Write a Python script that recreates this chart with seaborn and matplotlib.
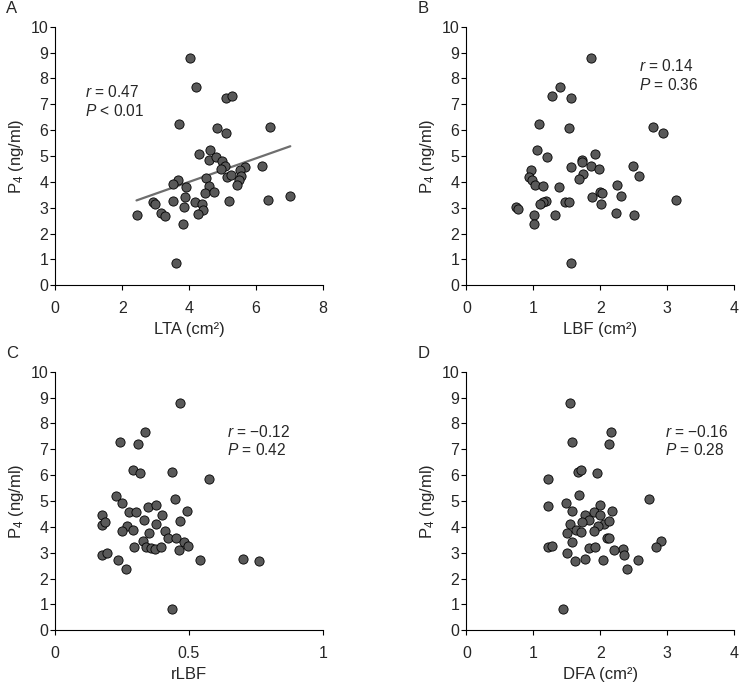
import numpy as np
import pandas as pd
import matplotlib
matplotlib.use('Agg')
import matplotlib.pyplot as plt
import seaborn as sns

## Values
p4_a = [8.80, 7.68, 7.23, 7.31, 6.22, 6.08, 5.88, 6.13, 5.23, 5.09, 4.86, 4.95, 4.79, 4.63, 4.51, 4.61,
        4.59, 4.46, 4.20, 4.28, 4.24, 4.06, 4.14, 4.07, 3.90, 3.80, 3.85, 3.87, 3.58, 3.60, 3.45, 3.43,
        3.25, 3.22, 3.25, 3.30, 3.22, 3.16, 3.13, 3.02, 2.93, 2.81, 2.69, 2.72, 2.74, 2.38, 0.86]
lta = [4.02, 4.20, 5.12, 5.30, 3.69, 4.84, 5.12, 6.43, 4.63, 4.30, 4.59, 4.81, 4.99, 5.07, 4.95, 6.19,
       5.67, 5.53, 5.14, 5.27, 5.55, 5.49, 4.51, 3.68, 3.52, 3.92, 4.59, 5.45, 4.49, 4.75, 7.03, 3.89,
       3.51, 4.19, 5.19, 6.35, 2.91, 2.97, 4.39, 3.86, 4.42, 3.17, 3.29, 2.43, 4.26, 3.81, 3.60]

p4_b = [8.80, 7.68, 7.31, 7.23, 6.22, 6.10, 6.13, 5.88, 5.23, 4.95, 5.09, 4.86, 4.78, 4.46, 4.59, 4.61,
        4.51, 4.63, 4.24, 4.29, 4.12, 4.20, 4.06, 3.89, 3.85, 3.80, 3.87, 3.60, 3.58, 3.45, 3.43, 3.30,
        3.22, 3.22, 3.25, 3.21, 3.16, 3.14, 3.03, 2.94, 2.72, 2.72, 2.78, 2.71, 2.38, 0.86]
lbf = [1.87, 1.40, 1.28, 1.56, 1.08, 1.53, 2.79, 2.94, 1.05, 1.20, 1.92, 1.73, 1.73, 0.97, 1.56, 1.86,
       1.98, 2.49, 2.58, 1.75, 1.69, 0.94, 0.98, 1.02, 1.15, 1.38, 2.25, 1.99, 2.03, 2.31, 1.88, 3.14,
       1.47, 1.54, 1.19, 1.14, 1.10, 2.01, 0.74, 0.77, 1.01, 1.32, 2.24, 2.51, 1.01, 1.56]

p4_c = [8.78, 7.65, 7.29, 7.20, 6.20, 6.07, 6.12, 5.86, 5.21, 4.91, 5.08, 4.56, 4.59, 4.78, 4.83, 4.47,
        4.60, 4.45, 4.09, 4.18, 4.28, 4.21, 4.10, 4.03, 3.83, 3.88, 3.78, 3.85, 3.57, 3.57, 3.45, 3.41,
        3.27, 3.21, 3.22, 3.20, 3.14, 3.21, 3.09, 2.90, 2.99, 2.71, 2.36, 2.71, 2.77, 2.68, 0.84]
rlbf = [0.468, 0.337, 0.243, 0.308, 0.292, 0.318, 0.435, 0.576, 0.227, 0.249, 0.449, 0.277, 0.302, 0.348,
        0.378, 0.400, 0.493, 0.173, 0.175, 0.186, 0.332, 0.465, 0.378, 0.268, 0.249, 0.289, 0.350, 0.410,
        0.420, 0.450, 0.329, 0.481, 0.496, 0.296, 0.338, 0.357, 0.373, 0.395, 0.461, 0.173, 0.193, 0.236,
        0.266, 0.541, 0.703, 0.763, 0.435]

p4_d = [8.78, 7.65, 7.29, 7.20, 6.11, 6.20, 6.07, 5.86, 5.22, 5.08, 4.79, 4.91, 4.85, 4.61, 4.60, 4.56,
        4.45, 4.46, 4.25, 4.18, 4.12, 4.21, 4.05, 4.10, 3.88, 3.81, 3.78, 3.85, 3.57, 3.56, 3.40, 3.45,
        3.21, 3.27, 3.18, 3.22, 3.14, 3.21, 3.09, 3.00, 2.90, 2.68, 2.76, 2.71, 2.71, 2.36, 0.84]
dfa = [1.544, 2.157, 1.579, 2.127, 1.669, 1.714, 1.948, 1.215, 1.684, 2.725, 1.225, 1.489, 1.993, 1.584,
       2.172, 1.903, 1.773, 1.993, 1.828, 1.729, 2.057, 2.137, 1.973, 1.554, 1.644, 1.714, 1.504, 1.913,
       2.107, 2.137, 1.574, 2.904, 1.225, 1.280, 1.833, 1.928, 2.346, 2.834, 2.212, 1.499, 2.356, 1.619,
       1.773, 2.047, 2.560, 2.396, 1.449]

panel_letters = ['A', 'B', 'C', 'D']
x_labels = ['LTA (cm\u00b2)', 'LBF (cm\u00b2)', 'rLBF', 'DFA (cm\u00b2)']
r_texts = ['0.47', '0.14', '\u22120.12', '\u22120.16']
p_texts = ['< 0.01', '= 0.36', '= 0.42', '= 0.28']

sns.set_style('ticks')
plt.rcParams['font.family'] = ['Liberation Sans', 'DejaVu Sans']
plt.rcParams['mathtext.fontset'] = 'custom'
plt.rcParams['mathtext.rm'] = 'Liberation Sans'
plt.rcParams['mathtext.it'] = 'Liberation Sans:italic'

fig = plt.figure(figsize=(7.4, 6.83), dpi=100)
positions = [[0.0747, 0.5823, 0.3614, 0.3786], [0.6302, 0.5823, 0.3617, 0.3786],
             [0.0747, 0.0772, 0.3614, 0.3786], [0.6302, 0.0772, 0.3617, 0.3786]]
xs = [lta, lbf, rlbf, dfa]
ys = [p4_a, p4_b, p4_c, p4_d]
xmax = [8, 4, 1, 4]
xticks = [[0, 2, 4, 6, 8], [0, 1, 2, 3, 4], [0, 0.5, 1], [0, 1, 2, 3, 4]]
xtick_lbls = [['0', '2', '4', '6', '8'], ['0', '1', '2', '3', '4'], ['0', '0.5', '1'], ['0', '1', '2', '3', '4']]
# text anchors in data coords (x, y of r line, y of P line)
text_pos = [(0.89, 7.49, 6.74), (2.575, 8.48, 7.74), (0.641, 7.68, 6.97), (2.964, 7.68, 6.97)]

for i in range(4):
    ax = fig.add_axes(positions[i])
    d = pd.DataFrame({'x': xs[i], 'y': ys[i]})
    if i == 0:
        sns.regplot(data=d, x='x', y='y', ax=ax, scatter=False, ci=None,
                    line_kws=dict(color='#6e6e6e', lw=1.6), truncate=True)
    sns.scatterplot(data=d, x='x', y='y', ax=ax, s=44, color='#595959',
                    edgecolor='black', linewidth=0.6, zorder=3)
    ax.set_xlim(0, xmax[i])
    ax.set_ylim(0, 10)
    ax.set_xticks(xticks[i])
    ax.set_xticklabels(xtick_lbls[i])
    ax.set_yticks(range(0, 11))
    ax.tick_params(labelsize=11.5, length=3.5, width=0.8, color='black')
    ax.tick_params(axis='x', pad=8)
    ax.tick_params(axis='y', pad=1.5)
    for sp in ['left', 'bottom']:
        ax.spines[sp].set_linewidth(0.8)
        ax.spines[sp].set_color('black')
    sns.despine(ax=ax)
    ax.set_xlabel(x_labels[i], fontsize=12, labelpad=3.8)
    ax.set_ylabel('P$_4$ (ng/ml)', fontsize=12, labelpad=3)
    tx, ry, py = text_pos[i]
    ax.text(tx, ry, '$\\mathit{r}$ = ' + r_texts[i], fontsize=11.2, va='center', ha='left')
    ax.text(tx, py, '$\\mathit{P}$ ' + p_texts[i], fontsize=11.2, va='center', ha='left')
    lx = positions[i][0] - 0.066
    ly = positions[i][1] + positions[i][3] + 0.026
    fig.text(lx, ly, panel_letters[i], fontsize=12, ha='left', va='center')

plt.savefig('out.png', dpi=100)
